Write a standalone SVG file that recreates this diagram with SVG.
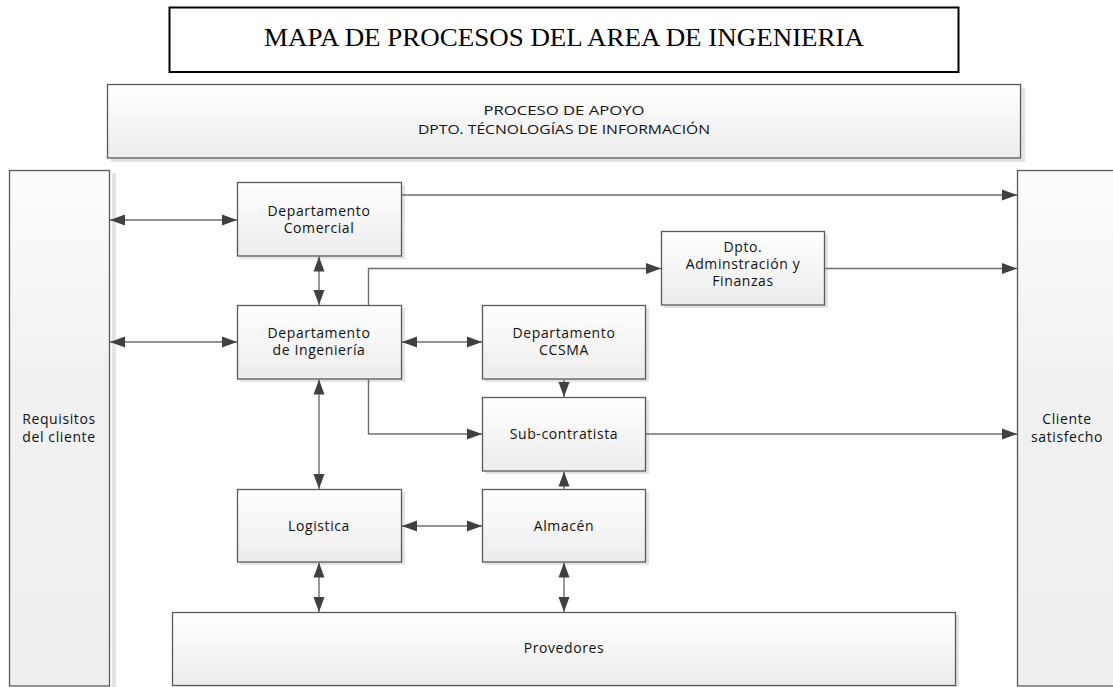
<svg xmlns="http://www.w3.org/2000/svg" width="1113" height="687" viewBox="0 0 1113 687">
<style>
.box{fill:url(#g);stroke:#5a5a5a;stroke-width:1.3}
.col{fill:url(#g2);stroke:#5a5a5a;stroke-width:1.3}
.sh{fill:#e4e4e4}
.t{font-family:"Open Sans","DejaVu Sans",sans-serif;font-size:14px;fill:#111;text-anchor:middle;letter-spacing:0.6px}
.a{font-family:"Open Sans","DejaVu Sans",sans-serif;font-size:12.5px;fill:#111;text-anchor:middle}
.c{fill:none;stroke:#6e6e6e;stroke-width:1.4}
</style>
<defs>
<linearGradient id="g" x1="0" y1="0" x2="0" y2="1"><stop offset="0" stop-color="#ffffff"/><stop offset="1" stop-color="#ececec"/></linearGradient>
<linearGradient id="g2" x1="0" y1="0" x2="0" y2="1"><stop offset="0" stop-color="#fcfcfc"/><stop offset="0.4" stop-color="#f1f1f1"/><stop offset="1" stop-color="#efefef"/></linearGradient>
<marker id="ah" markerUnits="userSpaceOnUse" markerWidth="16" markerHeight="12" refX="15" refY="6" orient="auto-start-reverse" viewBox="0 0 16 12"><path d="M0,0.5 L15,6 L0,11.5 Z" fill="#404040"/></marker>
</defs>
<rect width="1113" height="687" fill="#ffffff"/>
<g id="title">
<rect x="169.5" y="7.5" width="789" height="64.5" fill="#ffffff" stroke="#000" stroke-width="2"/>
<text x="564" y="46" font-family="'Liberation Serif','Times New Roman',serif" font-size="26" text-anchor="middle" textLength="600" lengthAdjust="spacingAndGlyphs" fill="#000">MAPA DE PROCESOS DEL AREA DE INGENIERIA</text>
</g>
<g id="apoyo">
<rect class="sh" x="111" y="88" width="914" height="74"/>
<rect class="box" x="107.5" y="84.5" width="913" height="73.5"/>
<text class="a" x="564" y="115" textLength="161" lengthAdjust="spacingAndGlyphs">PROCESO DE APOYO</text>
<text class="a" x="564" y="134" textLength="292" lengthAdjust="spacingAndGlyphs">DPTO. TÉCNOLOGÍAS DE INFORMACIÓN</text>
</g>
<g id="requisitos">
<rect class="sh" x="112" y="173" width="4" height="514"/>
<rect class="col" x="9.5" y="170.5" width="100" height="515.5"/>
<text class="t" x="59" y="424">Requisitos</text>
<text class="t" x="59" y="442">del cliente</text>
</g>
<g id="cliente">
<rect class="col" x="1017.5" y="170.5" width="100" height="515.5"/>
<text class="t" x="1067" y="424">Cliente</text>
<text class="t" x="1067" y="442">satisfecho</text>
</g>
<g id="comercial">
<rect class="sh" x="240" y="185" width="165" height="74"/>
<rect class="box" x="237.5" y="182.5" width="164" height="73.5"/>
<text class="t" x="319" y="216">Departamento</text>
<text class="t" x="319" y="233">Comercial</text>
</g>
<g id="ingenieria">
<rect class="sh" x="240" y="308" width="165" height="74"/>
<rect class="box" x="237.5" y="305.5" width="164" height="73.5"/>
<text class="t" x="319" y="338">Departamento</text>
<text class="t" x="319" y="355">de Ingeniería</text>
</g>
<g id="admin">
<rect class="sh" x="664" y="234" width="164" height="74"/>
<rect class="box" x="661.5" y="231.5" width="163" height="73.5"/>
<text class="t" x="743" y="252">Dpto.</text>
<text class="t" x="743" y="269">Adminstración y</text>
<text class="t" x="743" y="286">Finanzas</text>
</g>
<g id="ccsma">
<rect class="sh" x="485" y="308" width="164" height="74"/>
<rect class="box" x="482.5" y="305.5" width="163" height="73.5"/>
<text class="t" x="564" y="338">Departamento</text>
<text class="t" x="564" y="355">CCSMA</text>
</g>
<g id="subcontratista">
<rect class="sh" x="485" y="400" width="164" height="74"/>
<rect class="box" x="482.5" y="397.5" width="163" height="73.5"/>
<text class="t" x="564" y="439">Sub-contratista</text>
</g>
<g id="logistica">
<rect class="sh" x="240" y="492" width="165" height="73"/>
<rect class="box" x="237.5" y="489.5" width="164" height="72.5"/>
<text class="t" x="319" y="531">Logistica</text>
</g>
<g id="almacen">
<rect class="sh" x="485" y="492" width="164" height="73"/>
<rect class="box" x="482.5" y="489.5" width="163" height="72.5"/>
<text class="t" x="564" y="531">Almacén</text>
</g>
<g id="provedores">
<rect class="sh" x="175" y="615" width="784" height="72"/>
<rect class="box" x="172.5" y="612.5" width="783" height="73"/>
<text class="t" x="564" y="653">Provedores</text>
</g>
<g id="connectors">
<line class="c" x1="110" y1="220" x2="237" y2="220" marker-start="url(#ah)" marker-end="url(#ah)"/>
<line class="c" x1="110" y1="342" x2="237" y2="342" marker-start="url(#ah)" marker-end="url(#ah)"/>
<line class="c" x1="319" y1="256.5" x2="319" y2="305" marker-start="url(#ah)" marker-end="url(#ah)"/>
<line class="c" x1="402" y1="195" x2="1017" y2="195" marker-end="url(#ah)"/>
<polyline class="c" points="368.5,305 368.5,268.5 661,268.5" marker-end="url(#ah)"/>
<line class="c" x1="825" y1="268.5" x2="1017" y2="268.5" marker-end="url(#ah)"/>
<line class="c" x1="402" y1="342" x2="482" y2="342" marker-start="url(#ah)" marker-end="url(#ah)"/>
<polyline class="c" points="368.5,379.5 368.5,434 482,434" marker-end="url(#ah)"/>
<line class="c" x1="564" y1="379.5" x2="564" y2="397" marker-end="url(#ah)"/>
<line class="c" x1="646" y1="434" x2="1017" y2="434" marker-end="url(#ah)"/>
<line class="c" x1="319" y1="379.5" x2="319" y2="489" marker-start="url(#ah)" marker-end="url(#ah)"/>
<line class="c" x1="564" y1="489" x2="564" y2="471.5" marker-end="url(#ah)"/>
<line class="c" x1="402" y1="526" x2="482" y2="526" marker-start="url(#ah)" marker-end="url(#ah)"/>
<line class="c" x1="319" y1="562.5" x2="319" y2="612" marker-start="url(#ah)" marker-end="url(#ah)"/>
<line class="c" x1="564" y1="562.5" x2="564" y2="612" marker-start="url(#ah)" marker-end="url(#ah)"/>
</g>
</svg>
